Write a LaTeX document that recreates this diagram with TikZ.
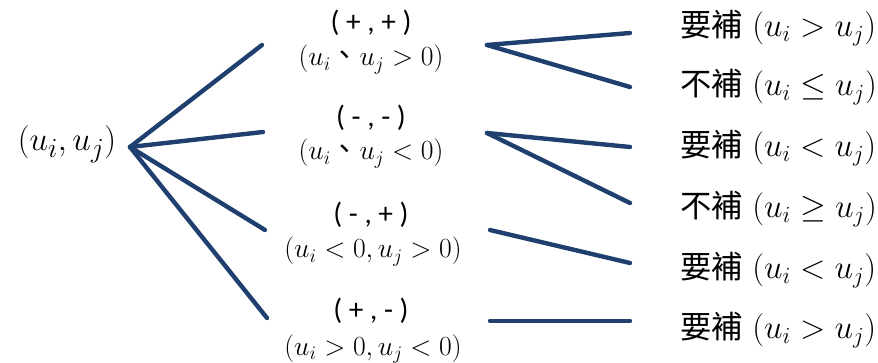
\documentclass[tikz,border=0pt]{standalone}
\usepackage{fontspec}
\newfontfamily\cjk{Noto Sans CJK TC}
\newfontfamily\signfont{Carlito}
\usetikzlibrary{positioning}
\definecolor{branchblue}{HTML}{1F3F6F}
\definecolor{figink}{HTML}{000000}

\begin{document}
\begin{tikzpicture}[
    x=0.75pt, y=-0.75pt,
    every node/.style={inner sep=0pt, text=figink},
    branch/.style={branchblue, line width=3.3pt, line cap=round},
    rootlabel/.style={font=\fontsize{30}{36}\selectfont, anchor=base},
    signlabel/.style={font=\signfont\fontsize{22}{26}\selectfont, anchor=base},
    condlabel/.style={font=\fontsize{21.5}{26}\selectfont, anchor=base},
    leaflabel/.style={font=\fontsize{23.5}{28}\selectfont, anchor=base west},
  ]
  \useasboundingbox (0,0) rectangle (878,363);

  % root
  \node[rootlabel] (root) at (67,151) {$(u_i,u_j)$};
  \coordinate (fan) at (130,147);

  % sign cases
  \node[signlabel] (pp) at (371,32) {( + , + )};
  \node[condlabel] (pp-cond) at (371,66) {$(u_i${\cjk 、}$u_j>0)$};
  \node[signlabel] (mm) at (371,127) {( - , - )};
  \node[condlabel] (mm-cond) at (371,160) {$(u_i${\cjk 、}$u_j<0)$};
  \node[signlabel] (mp) at (371,224) {( - , + )};
  \node[condlabel] (mp-cond) at (373,258) {$(u_i<0,u_j>0)$};
  \node[signlabel] (pm) at (371,320) {( + , - )};
  \node[condlabel] (pm-cond) at (373,355) {$(u_i>0,u_j<0)$};

  \coordinate (pp-in) at (262,45);
  \coordinate (mm-in) at (263,132);
  \coordinate (mp-in) at (265,230);
  \coordinate (pm-in) at (267,318);
  \coordinate (pp-out) at (487,45);
  \coordinate (mm-out) at (487,133);
  \coordinate (mp-out) at (490,230);
  \coordinate (pm-out) at (490,321);

  % outcomes
  \node[leaflabel] (leaf1) at (680,37) {{\cjk 要補} $(u_i>u_j)$};
  \node[leaflabel] (leaf2) at (680,96) {{\cjk 不補} $(u_i\leq u_j)$};
  \node[leaflabel] (leaf3) at (680,157) {{\cjk 要補} $(u_i<u_j)$};
  \node[leaflabel] (leaf4) at (680,218) {{\cjk 不補} $(u_i\geq u_j)$};
  \node[leaflabel] (leaf5) at (680,279) {{\cjk 要補} $(u_i<u_j)$};
  \node[leaflabel] (leaf6) at (680,339) {{\cjk 要補} $(u_i>u_j)$};

  \coordinate (leaf1-in) at (630,33);
  \coordinate (leaf2-in) at (630,87);
  \coordinate (leaf3-in) at (630,147);
  \coordinate (leaf4-in) at (630,203);
  \coordinate (leaf5-in) at (630,263);
  \coordinate (leaf6-in) at (630,321);

  % branches
  \foreach \c in {pp,mm,mp,pm}
    \draw[branch] (fan) -- (\c-in);
  \draw[branch] (pp-out) -- (leaf1-in);
  \draw[branch] (pp-out) -- (leaf2-in);
  \draw[branch] (mm-out) -- (leaf3-in);
  \draw[branch] (mm-out) -- (leaf4-in);
  \draw[branch] (mp-out) -- (leaf5-in);
  \draw[branch] (pm-out) -- (leaf6-in);
\end{tikzpicture}
\end{document}
